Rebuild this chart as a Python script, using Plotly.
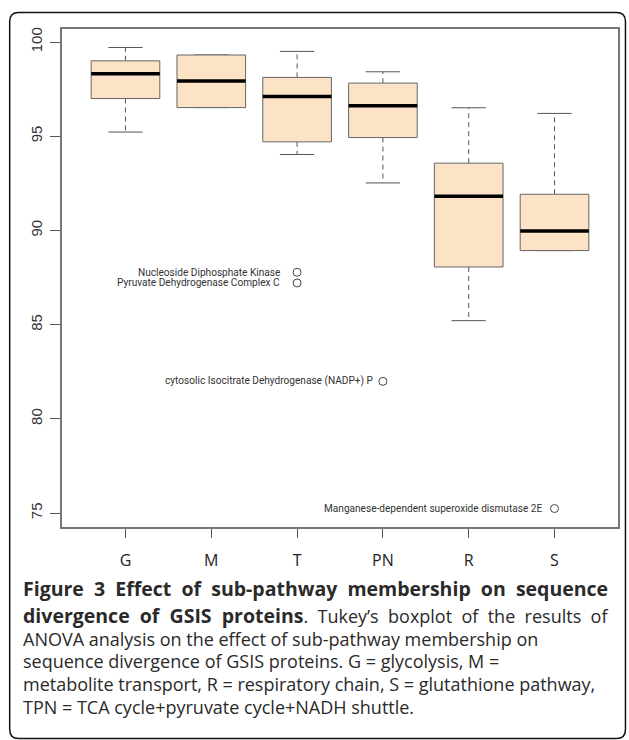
import plotly.graph_objects as go

# ---------------- data ----------------
categories = ["G", "M", "T", "PN", "R", "S"]
lower_whisker = [95.22, 96.52, 94.03, 92.52, 85.21, 88.93]
q1 = [97.00, 96.52, 94.70, 94.93, 88.06, 88.93]
median = [98.32, 97.93, 97.11, 96.62, 91.82, 89.97]
q3 = [99.00, 99.31, 98.12, 97.82, 93.57, 91.92]
upper_whisker = [99.71, 99.31, 99.50, 98.42, 96.51, 96.21]

outlier_group = ["T", "T", "PN", "S"]
outlier_value = [87.78, 87.21, 81.99, 75.24]
outlier_label = [
    "Nucleoside Diphosphate Kinase",
    "Pyruvate Dehydrogenase Complex C",
    "cytosolic Isocitrate Dehydrogenase (NADP+) P",
    "Manganese-dependent superoxide dismutase 2E",
]
y_ticks = [75, 80, 85, 90, 95, 100]

SP = " &nbsp;"
def wide(s):
    return SP.join(s.split(" "))

caption_lines = [
    '<b><span style="font-size:19.5px">' + wide("Figure 3 Effect of sub-pathway membership on sequence") + "</span></b>",
    '<b><span style="font-size:19.5px">' + wide("divergence of GSIS proteins") + "</span></b>" + wide(". Tukey\u2019s boxplot of the results of"),
    "ANOVA analysis on the effect of sub-pathway membership on",
    "sequence divergence of GSIS proteins. G = glycolysis, M =",
    "metabolite transport, R = respiratory chain, S = glutathione pathway,",
    "TPN = TCA cycle+pyruvate cycle+NADH shuttle.",
]

# ---------------- style ----------------
W, H = 629, 740
ML, MR, MT, MB = 62, 9, 29, 213
BOX_HALF = 0.4
CAP_HALF = 0.2
FILL = "#FCE3C6"
EDGE = "#666666"
label_shift = [-16, -16, -9, -12]

xpos = {c: i + 1 for i, c in enumerate(categories)}

fig = go.Figure()

# whiskers (dashed)
wx, wy = [], []
for i, c in enumerate(categories):
    x = xpos[c]
    wx += [x, x, None, x, x, None]
    wy += [q3[i], upper_whisker[i], None, q1[i], lower_whisker[i], None]
fig.add_trace(go.Scatter(x=wx, y=wy, mode="lines",
                         line=dict(color="#555555", width=1, dash="5px,4px"),
                         hoverinfo="skip", showlegend=False))
# caps
cx, cy = [], []
for i, c in enumerate(categories):
    x = xpos[c]
    cx += [x - CAP_HALF, x + CAP_HALF, None, x - CAP_HALF, x + CAP_HALF, None]
    cy += [upper_whisker[i], upper_whisker[i], None, lower_whisker[i], lower_whisker[i], None]
fig.add_trace(go.Scatter(x=cx, y=cy, mode="lines",
                         line=dict(color="#555555", width=1),
                         hoverinfo="skip", showlegend=False))
# boxes
for i, c in enumerate(categories):
    x = xpos[c]
    fig.add_trace(go.Scatter(
        x=[x - BOX_HALF, x + BOX_HALF, x + BOX_HALF, x - BOX_HALF, x - BOX_HALF],
        y=[q1[i], q1[i], q3[i], q3[i], q1[i]],
        mode="lines", fill="toself", fillcolor=FILL,
        line=dict(color=EDGE, width=1), hoverinfo="skip", showlegend=False))
# medians
mx, my = [], []
for i, c in enumerate(categories):
    x = xpos[c]
    mx += [x - BOX_HALF, x + BOX_HALF, None]
    my += [median[i], median[i], None]
fig.add_trace(go.Scatter(x=mx, y=my, mode="lines",
                         line=dict(color="#000000", width=3.5),
                         hoverinfo="skip", showlegend=False))
# outliers
fig.add_trace(go.Scatter(x=[xpos[g] for g in outlier_group], y=outlier_value,
                         mode="markers",
                         marker=dict(symbol="circle-open", size=8,
                                     color="#444444", line=dict(width=1)),
                         hoverinfo="skip", showlegend=False))
for g, v, t, s in zip(outlier_group, outlier_value, outlier_label, label_shift):
    fig.add_annotation(x=xpos[g], y=v, text=t, showarrow=False,
                       xanchor="right", yanchor="middle", xshift=s, borderpad=0,
                       font=dict(family="Roboto, sans-serif",
                                 size=10.1, color="#333333"))

# caption
PW, PH = W - ML - MR, H - MT - MB
def px2paper(px, py):
    return (px - ML) / PW, (H - MB - py) / PH

caption_y = [588.5, 615.5, 638.5, 661, 684, 707]
for line, yy in zip(caption_lines, caption_y):
    px_, py_ = px2paper(22, yy)
    fig.add_annotation(xref="paper", yref="paper", x=px_, y=py_, text=line,
                       showarrow=False, xanchor="left", yanchor="middle",
                       borderpad=0,
                       font=dict(family="Open Sans", size=18, color="#2a2a2a"))

# rounded outer frame
L, T, R, B, r = 9.5, 12.5, 627.5, 738.5, 9
pts = [
    ("M", [(L, T + r)]), ("Q", [(L, T), (L + r, T)]), ("L", [(R - r, T)]),
    ("Q", [(R, T), (R, T + r)]), ("L", [(R, B - r)]), ("Q", [(R, B), (R - r, B)]),
    ("L", [(L + r, B)]), ("Q", [(L, B), (L, B - r)]),
]
path = ""
for cmd, coords in pts:
    path += cmd + " " + " ".join("%.5f,%.5f" % px2paper(a, b) for a, b in coords) + " "
path += "Z"
fig.add_shape(type="path", path=path, xref="paper", yref="paper",
              line=dict(color="#111111", width=1.5), layer="above")

fig.update_layout(
    width=W, height=H,
    margin=dict(l=ML, r=MR, t=MT, b=MB),
    paper_bgcolor="white", plot_bgcolor="white",
    showlegend=False,
    xaxis=dict(range=[0.26, 6.74], tickvals=[xpos[c] for c in categories],
               ticktext=categories, showgrid=False, zeroline=False,
               showline=True, mirror=True, linecolor="#777777", linewidth=1.5,
               ticks="outside", ticklen=9, tickcolor="#555555", tickwidth=1,
               ticklabelstandoff=9,
               tickfont=dict(family="Open Sans", size=16, color="#222222")),
    yaxis=dict(range=[74.26, 100.69], tickvals=y_ticks,
               showgrid=False, zeroline=False,
               showline=True, mirror=True, linecolor="#777777", linewidth=1.5,
               ticks="outside", ticklen=10, tickcolor="#555555", tickwidth=1,
               tickangle=-90, ticklabelstandoff=2,
               tickfont=dict(family="Liberation Sans, Arial, sans-serif", size=15,
                             color="#333333")),
)

fig.write_html("out.html")
